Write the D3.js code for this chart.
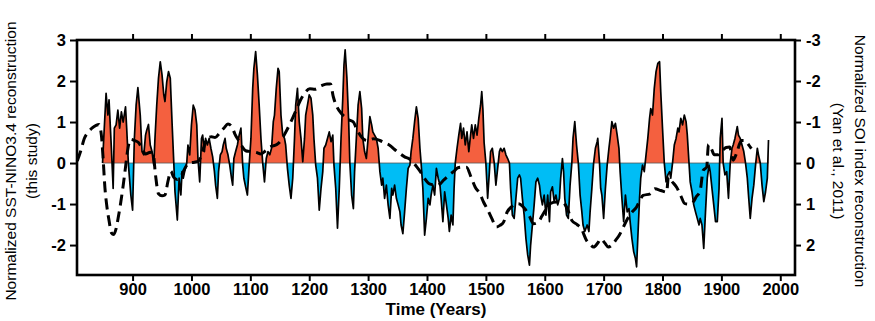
<!DOCTYPE html>
<html>
<head>
<meta charset="utf-8">
<script src="https://cdn.jsdelivr.net/npm/d3@7"></script>
<style>
  body { margin: 0; background: #fff; }
  text { font-family: "Liberation Sans", Arial, sans-serif; }
</style>
</head>
<body>
<div id="viz"></div>
<script>
// SST-NINO3.4 reconstruction (left axis)
const ninoYears = [849,851,855,858,860,864,867,869,872,875,878,881,884,888,890,893,897,900,903,906,909,913,916,919,922,924,927,930,933,936,938,941,944,947,950,953,955,958,961,964,967,970,972,976,979,982,984,986,989,992,994,997,
  1000,1003,1006,1009,1011,1014,1017,1019,1022,1024,1027,1030,1033,1036,1039,1041,1044,1046,1049,1052,1054,1057,1059,1062,1065,1068,1070,1072,1075,1078,1081,1084,1087,1089,1092,1095,1098,
  1101,1104,1106,1109,1112,1115,1118,1121,1124,1127,1130,1133,1136,1139,1141,1144,1147,1149,1152,1155,1158,1160,1163,1166,1169,1172,1175,1177,1180,1183,1186,1189,1192,1194,1197,
  1200,1203,1206,1208,1211,1214,1217,1220,1223,1225,1228,1231,1234,1237,1240,1242,1245,1248,1251,1254,1257,1259,1261,1264,1267,1269,1272,1275,1277,1280,1283,1286,1289,1291,1294,1297,
  1300,1303,1306,1308,1311,1314,1317,1320,1323,1325,1328,1331,1334,1337,1340,1342,1345,1348,1351,1354,1356,1359,1362,1365,1368,1371,1373,1376,1379,1382,1385,1388,1390,1393,1396,1399,
  1402,1405,1407,1410,1413,1416,1419,1422,1424,1427,1430,1433,1436,1438,1441,1444,1446,1448,1451,1454,1457,1459,1462,1465,1468,1471,1474,1476,1479,1482,1485,1488,1491,1493,1495,1497,
  1500,1503,1506,1508,1511,1514,1517,1520,1523,1525,1528,1531,1534,1537,1540,1542,1545,1548,1551,1554,1557,1559,1562,1565,1568,1571,1574,1576,1579,1582,1585,1588,1591,1593,1596,1599,
  1602,1605,1608,1610,1613,1616,1619,1622,1625,1627,1630,1632,1634,1637,1640,1643,1646,1648,1651,1654,1657,1660,1663,1665,1668,1672,1675,1677,1680,1683,1686,1689,1690,1693,1695,1697,
  1700,1703,1706,1709,1711,1714,1717,1720,1723,1726,1728,1731,1734,1737,1740,1743,1745,1748,1751,1754,1756,1758,1761,1763,1766,1769,1772,1775,1778,1780,1783,1786,1789,1792,1795,1797,
  1800,1803,1806,1809,1812,1814,1817,1820,1823,1826,1828,1831,1834,1837,1840,1842,1845,1847,1850,1853,1856,1859,1862,1864,1867,1870,1873,1876,1879,1881,1884,1887,1890,1893,1896,1898,
  1901,1903,1906,1909,1912,1915,1918,1920,1923,1927,1929,1932,1935,1938,1941,1944,1946,1949,1952,1955,1958,1961,1963,1966,1969,1972,1975,1978,1980];
const ninoValues = [0,0.60,1.70,1.17,1.54,0.36,-0.62,0.85,0.93,1.29,0.85,1.25,1.00,1.37,0.85,-0.05,-0.78,-1.15,0.60,1.41,1.84,1.17,0.28,0.20,0.68,0.80,0.94,0.44,0.28,-0.05,0.60,1.41,2.07,2.47,2.15,1.66,1.50,1.98,2.23,2.07,1.00,0,-0.70,-1.39,-0.37,-0.78,-0.21,-0.37,-0.17,0,0.44,0.20,
  0.93,1.41,1.29,0.93,0.11,-0.46,0.60,0.68,0.28,0.60,0.44,0.60,0.36,0.15,-0.21,-0.54,-0.86,-0.21,0.20,0.28,0.44,0.60,0.36,0.20,-0.05,-0.37,-0.54,0.11,0.28,0.44,0.68,0.85,-0.05,-0.37,-0.58,-0.78,-0.05,
  0.60,1.82,2.31,2.72,2.15,1.41,0.60,0,-0.46,0.11,0.28,0.20,0.36,1.01,1.17,1.82,2.31,2.23,1.17,0.68,0.60,0.44,-0.13,-0.54,-0.86,-0.37,0.60,1.41,1.82,1.01,0.60,0.03,0.60,1.17,1.41,
  1.66,1.58,1.17,0.60,-0.05,-0.37,-1.15,-0.62,-0.21,0.36,0.44,0.60,0.76,0.52,0.68,-0.05,-0.62,-1.59,-0.62,0.60,1.58,2.39,2.76,2.07,1.01,0,-0.78,-1.11,-0.21,0.60,1.41,1.74,1.33,0.60,0.28,0.11,
  0.60,1.13,0.93,0.76,0.68,0.60,0.36,-0.21,-0.54,-0.37,-0.86,-0.54,-1.02,-1.35,-0.62,-0.78,-0.54,-0.86,-1.02,-1.19,-1.51,-1.72,-1.19,-0.62,-0.13,-0.05,0.28,0.60,1.01,1.37,1.09,0.36,0,-0.62,-1.76,-1.35,
  -0.86,-1.02,-0.78,-0.54,-0.78,-0.13,-0.37,-0.54,-0.86,-1.43,-0.70,-1.02,-1.35,-1.67,-1.27,-1.51,-0.62,0,0.36,0.68,0.97,0.60,0.85,0.44,0.76,0.28,0.68,0.93,0.60,0.93,0.68,1.09,1.41,1.74,1.30,0.50,
  0,-0.86,-0.21,0.28,0.36,0.03,-0.54,-0.13,0.28,0.36,0.28,0.36,0.20,0.11,0,-0.62,-1.27,-1.35,-0.86,-0.37,-0.29,-0.37,-0.86,-1.27,-1.84,-2.24,-2.49,-2.00,-1.51,-1.02,-0.46,-0.37,-0.54,-0.78,-1.02,-0.78,
  -1.27,-0.78,-1.43,-0.70,-0.58,-0.94,-0.78,-1.02,-0.86,-0.37,0.11,-0.21,-0.86,-1.27,-1.35,-0.54,0,0.60,1.01,0.44,0,-0.78,-1.19,-1.51,-1.67,-1.51,-1.67,-1.19,-0.62,0,0.36,0.52,0.60,0,-0.62,-0.78,
  -1.35,-0.62,-0.05,0.36,0.60,1.01,0.85,0.97,0.68,0.36,-0.21,-0.86,-1.43,-0.78,-1.19,-1.11,-1.43,-1.84,-2.16,-2.33,-2.53,-1.84,-0.86,-0.37,-0.05,-0.21,0.20,0.60,1.09,1.33,1.17,1.82,2.23,2.43,2.47,1.74,
  0.85,0,-0.46,-0.29,-0.21,-0.37,0,0.44,0.60,0.85,0.76,1.09,0.93,1.17,1.01,0.70,0,-0.46,-0.70,-1.02,-1.19,-1.35,-1.51,-1.35,-1.51,-2.08,-1.19,-0.37,-0.05,-0.21,-0.62,-1.02,-1.43,-1.43,-0.62,0.60,
  1.09,0,-0.29,-0.21,-0.86,0,0.36,0.44,0.60,0.89,0.68,0.60,0.44,0.28,0,-0.37,-0.78,-1.35,-0.86,-0.54,-0.05,0.36,0.20,0,-0.54,-0.94,-0.70,-0.37,0.56];

// SOI reconstruction, Yan et al. 2011 (right axis, inverted)
const soiYears = [806,812,818,825,831,838,843,847,850,853,856,860,864,868,872,876,880,884,888,892,897,903,910,916,922,930,935,939,944,950,955,960,965,970,976,983,990,996,
  1005,1012,1020,1026,1034,1040,1047,1055,1062,1068,1074,1080,1086,1092,1100,1110,1118,1126,1135,1145,1152,1160,1170,1178,1185,1192,
  1201,1210,1220,1230,1236,1241,1247,1255,1261,1268,1275,1280,1287,1298,1309,1320,1330,1337,1345,1354,1362,1369,1376,1383,1391,1397,
  1403,1410,1417,1423,1428,1434,1440,1446,1452,1458,1467,1475,1482,1490,1496,1502,1510,1518,1524,1530,1536,1545,1555,1566,1574,1581,1589,1595,
  1601,1609,1620,1630,1638,1646,1655,1662,1671,1678,1683,1690,1695,1702,1708,1714,1720,1727,1731,1739,1748,1756,1762,1767,1779,1787,1797,
  1807,1810,1816,1824,1831,1838,1845,1852,1857,1864,1869,1875,1878,1883,1888,1895,1902,1908,1914,1920,1926,1934,1940,1946,1951];
const soiValues = [-0.05,-0.30,-0.60,-0.76,-0.85,-0.92,-0.94,-0.68,-0.10,0.60,1.02,1.40,1.70,1.74,1.60,1.30,0.95,0.55,0.10,-0.35,-0.58,-0.55,-0.50,-0.36,-0.22,-0.26,-0.22,0.30,0.75,0.80,0.78,0.45,0.20,0.35,0.40,0.30,0.10,0,
  -0.02,-0.05,-0.35,-0.60,-0.64,-0.62,-0.72,-0.85,-0.95,-0.90,-0.70,-0.55,-0.40,-0.30,-0.28,-0.26,-0.22,-0.30,-0.40,-0.45,-0.55,-0.75,-1.04,-1.30,-1.53,-1.70,
  -1.81,-1.80,-1.88,-1.93,-1.93,-1.61,-1.37,-1.20,-1.12,-1.05,-1.00,-0.85,-0.67,-0.55,-0.59,-0.55,-0.48,-0.43,-0.33,-0.23,-0.15,-0.11,-0.02,0.10,0.26,0.40,
  0.50,0.53,0.54,0.50,0.42,0.34,0.26,0.20,0.12,0.10,0.10,0.35,0.59,0.75,0.95,1.11,1.35,1.56,1.52,1.44,1.20,1.05,0.99,1.11,1.30,1.48,1.44,1.30,
  1.15,0.99,0.95,0.95,1.10,1.40,1.50,1.60,1.89,2.00,2.05,1.95,1.85,1.95,2.05,2.00,1.89,1.75,1.64,1.40,1.20,1.07,0.90,0.79,0.75,0.63,0.67,
  0.71,0.34,0.45,0.59,0.80,0.99,1.00,0.95,0.83,0.67,0.18,0.10,-0.45,-0.35,-0.20,-0.20,-0.31,-0.38,-0.39,-0.07,-0.25,-0.55,-0.55,-0.45,-0.35];

const xTicks = [900,1000,1100,1200,1300,1400,1500,1600,1700,1800,1900,2000];
const leftTicks = [-2,-1,0,1,2,3];
const rightTicks = [-3,-2,-1,0,1,2];

const margin = {top: 40, left: 77, bottom: 46, right: 80};
const W = 875, H = 321;
const width = W - margin.left - margin.right;
const height = H - margin.top - margin.bottom;

const svg = d3.select('#viz').append('svg')
  .attr('width', W)
  .attr('height', H);

const g = svg.append('g')
  .attr('transform', `translate(${margin.left},${margin.top})`);

const x = d3.scaleLinear().domain([805.6, 2025]).range([0, width]);
const yL = d3.scaleLinear().domain([-2.73, 3]).range([height, 0]);
const yR = d3.scaleLinear().domain([-3, 2.73]).range([0, height]);

const nino = ninoYears.map((yr, i) => ({yr, v: ninoValues[i]}));
const soi = soiYears.map((yr, i) => ({yr, v: soiValues[i]}));

// clip areas above / below zero
const defs = svg.append('defs');
defs.append('clipPath').attr('id', 'above')
  .append('rect').attr('x', 0).attr('y', 0).attr('width', width).attr('height', yL(0));
defs.append('clipPath').attr('id', 'below')
  .append('rect').attr('x', 0).attr('y', yL(0)).attr('width', width).attr('height', height - yL(0));

const area = d3.area()
  .x(d => x(d.yr))
  .y0(yL(0))
  .y1(d => yL(d.v));

g.append('path').datum(nino)
  .attr('d', area)
  .attr('fill', '#f4603f')
  .attr('clip-path', 'url(#above)');

g.append('path').datum(nino)
  .attr('d', area)
  .attr('fill', '#00bdf5')
  .attr('clip-path', 'url(#below)');

g.append('line')
  .attr('x1', x(ninoYears[0])).attr('x2', x(ninoYears[ninoYears.length - 1]))
  .attr('y1', yL(0)).attr('y2', yL(0))
  .attr('stroke', '#555').attr('stroke-width', 0.8);

g.append('path').datum(nino)
  .attr('d', d3.line().x(d => x(d.yr)).y(d => yL(d.v)))
  .attr('fill', 'none')
  .attr('stroke', '#000')
  .attr('stroke-width', 1.7)
  .attr('stroke-linejoin', 'round');

g.append('path').datum(soi)
  .attr('d', d3.line().curve(d3.curveMonotoneX).x(d => x(d.yr)).y(d => yR(d.v)))
  .attr('fill', 'none')
  .attr('stroke', '#000')
  .attr('stroke-width', 3)
  .attr('stroke-dasharray', '11,6');

// axes (plain hyphen for negatives, as in the original)
const fmt = d => String(d);

function styleAxis(sel) {
  sel.select('.domain').remove();
  sel.selectAll('.tick line').attr('stroke', '#000').attr('stroke-width', 2);
  sel.selectAll('.tick text')
    .attr('fill', '#000')
    .style('font-size', '16.5px')
    .style('font-weight', 'bold');
}

g.append('g')
  .attr('transform', `translate(0,${height})`)
  .call(d3.axisBottom(x).tickValues(xTicks).tickFormat(fmt).tickSize(6).tickPadding(2))
  .call(styleAxis);

g.append('g')
  .call(d3.axisTop(x).tickValues(xTicks).tickFormat('').tickSize(6))
  .call(styleAxis);

g.append('g')
  .call(d3.axisLeft(yL).tickValues(leftTicks).tickFormat(fmt).tickSize(7).tickPadding(4))
  .call(styleAxis);

g.append('g')
  .attr('transform', `translate(${width},0)`)
  .call(d3.axisRight(yR).tickValues(rightTicks).tickFormat(fmt).tickSize(6).tickPadding(5))
  .call(styleAxis);

// frame
g.append('rect')
  .attr('width', width).attr('height', height)
  .attr('fill', 'none')
  .attr('stroke', '#000')
  .attr('stroke-width', 2.6);

// titles
svg.append('text')
  .attr('x', margin.left + width / 2).attr('y', 315)
  .attr('text-anchor', 'middle')
  .style('font-size', '17px').style('font-weight', 'bold')
  .text('Time (Years)');

const cy = margin.top + yL(0) - 2;
svg.append('text')
  .attr('transform', `translate(16,${cy}) rotate(-90)`)
  .attr('text-anchor', 'middle')
  .style('font-size', '15.5px')
  .text('Normalized SST-NINO3.4 reconstruction');
svg.append('text')
  .attr('transform', `translate(37,${cy}) rotate(-90)`)
  .attr('text-anchor', 'middle')
  .style('font-size', '15.5px')
  .text('(this study)');

svg.append('text')
  .attr('transform', `translate(855,${cy}) rotate(90)`)
  .attr('text-anchor', 'middle')
  .style('font-size', '15.5px')
  .text('Normalized SOI index reconstruction');
svg.append('text')
  .attr('transform', `translate(833,${cy}) rotate(90)`)
  .attr('text-anchor', 'middle')
  .style('font-size', '15.5px')
  .text('(Yan et al., 2011)');
</script>
</body>
</html>
